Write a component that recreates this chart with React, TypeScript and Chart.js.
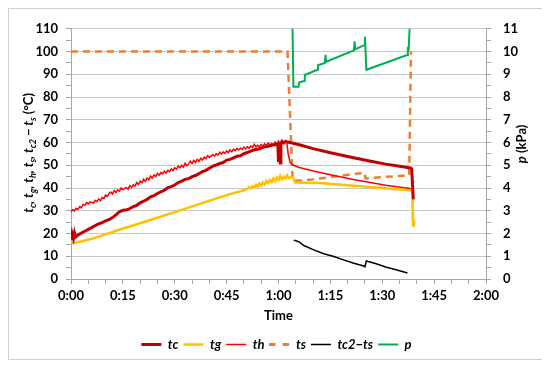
import React, { useEffect, useRef } from 'react';
import { Chart, registerables } from 'chart.js';

Chart.register(...registerables);

type Pt = [number, number];

// time in minutes, values in °C
const tcData: Pt[] = [
  [0, 17.3], [0.3, 20], [0.7, 17.8], [1, 20.2], [1.3, 18.4], [2, 19.3], [3, 20.2], [4, 21], [5, 21.8], [6, 22.6],
  [7, 23.5], [8, 24.2], [9, 24.8], [10, 25.6], [11, 26.1], [12, 27], [13, 28.2], [14, 29.6], [15, 30.2], [16, 30.3],
  [17, 31], [18, 31.8], [19, 32.4], [20, 33.5], [21, 34.2], [22, 35], [23, 36.1], [24, 36.6], [25, 37.6], [26, 38.3],
  [27, 39], [28, 40.2], [29, 40.6], [30, 41.3], [31, 42.4], [32, 43], [33, 43.8], [34, 44.1], [35, 45], [36, 45.5],
  [37, 46.3], [38, 47.2], [39, 47.8], [40, 48.7], [41, 49.6], [42, 50.1], [43, 50.8], [44, 51.2], [45, 52.3], [46, 52.6],
  [47, 53.3], [48, 54], [49, 54.2], [50, 55.1], [51, 55.6], [52, 56.2], [53, 56.8], [54, 57], [55, 57.6], [56, 58.1],
  [57, 58.3], [58, 58.8], [59, 59], [59.8, 59.3], [60, 51.5], [60.2, 59.5], [60.5, 51], [60.7, 59.6], [61, 60.3], [61.5, 59.8],
  [62, 60.5], [62.7, 60.2], [63, 60.1], [66, 59], [70, 57.3], [75, 55.5], [81, 53.5], [86, 52], [91, 50.5], [95, 49.6],
  [98.2, 48.8], [98.5, 48.5], [98.8, 40], [99, 35],
];

const tgData: Pt[] = [
  [0, 15.8], [2, 16.2], [4, 16.9], [6, 17.7], [8, 18.6], [10, 19.6], [13, 21.2], [17, 23.1], [22, 25.5], [27, 27.9],
  [32, 30.4], [37, 32.9], [42, 35.4], [46, 37.3], [50, 39], [51, 39.6], [51.5, 40.4], [52, 39.9], [52.5, 40.8], [53, 40.3],
  [53.5, 41.4], [54, 40.6], [54.5, 42], [55, 41.1], [55.5, 42.4], [56, 41.6], [56.5, 43.1], [57, 42.2], [57.5, 43.5], [58, 42.6],
  [58.5, 44.2], [59, 43], [59.5, 44.6], [60, 43.5], [60.5, 45.3], [61, 43.8], [61.5, 45], [62, 44.1], [62.5, 45.6], [63, 44.3],
  [63.5, 44.8], [64.3, 44.6], [64.8, 42.4], [72, 42.2], [81, 41.1], [90, 40], [98.4, 38.9], [98.7, 38.5], [98.9, 23.5], [99.1, 25.5],
  [99.3, 24.2],
];

const thData: Pt[] = [
  [0, 29.5], [0.5, 30.4], [1, 29.9], [1.5, 31.1], [2, 30.6], [2.5, 31.8], [3, 31.3], [3.5, 32.8], [4, 32.4], [4.5, 33.6],
  [5, 33], [5.5, 33.9], [6, 33.7], [6.5, 33.3], [7, 34.6], [7.5, 34], [8, 35.2], [8.5, 34.4], [9, 35.8], [9.5, 35.4],
  [10, 36.9], [10.5, 36.2], [11, 37.6], [11.5, 38.2], [12, 37.3], [12.5, 38.9], [13, 38], [13.5, 39.2], [14, 38.6], [14.5, 40],
  [15, 39.2], [15.5, 39.8], [16, 40.2], [16.5, 39.5], [17, 41], [17.5, 40.3], [18, 41.4], [18.5, 40.8], [19, 42.4], [19.5, 41.6],
  [20, 43], [20.5, 42.3], [21, 43.9], [21.5, 42.9], [22, 44.4], [22.5, 43.6], [23, 45.2], [23.5, 44.3], [24, 45.7], [24.5, 45],
  [25, 46.4], [25.5, 45.6], [26, 46.8], [26.5, 46.2], [27, 47.4], [27.5, 46.6], [28, 47.8], [28.5, 47.2], [29, 48.4], [29.5, 47.7],
  [30, 48.9], [30.5, 48.2], [31, 49.7], [31.5, 48.9], [32, 50], [32.5, 49.2], [33, 50.9], [33.5, 49.8], [34, 50.6], [34.5, 51.8],
  [35, 50.8], [35.5, 52.2], [36, 51.2], [36.5, 52.6], [37, 51.7], [37.5, 53.1], [38, 52.3], [38.5, 53.6], [39, 52.9], [39.5, 54.2],
  [40, 53.4], [41, 54.7], [41.5, 53.9], [42, 55.1], [42.5, 54.5], [43, 55.7], [43.5, 54.9], [44, 55.9], [44.5, 55.2], [45, 56.3],
  [45.5, 55.5], [46, 56.7], [46.5, 55.9], [47, 57.1], [47.5, 56.4], [48, 57.4], [48.5, 56.7], [49, 57.6], [49.5, 56.9], [50, 58],
  [50.5, 57.2], [51, 58.2], [51.5, 57.5], [52, 58.5], [52.5, 57.8], [53, 59.2], [53.5, 58], [54, 58.8], [54.5, 58.1], [55, 59.2],
  [55.5, 58.4], [56, 59.5], [56.5, 58.6], [57, 59.8], [57.5, 58.9], [58, 59.6], [58.5, 59], [59, 60.2], [59.5, 59.3], [60, 60.6],
  [60.5, 59.5], [61, 61], [61.5, 60], [62, 60.8], [62.4, 60.2], [62.8, 55], [63.3, 51.5], [64, 50.2], [66, 49], [70, 47.5],
  [75, 45.8], [82, 43.6], [91, 41.2], [98.5, 39.7],
];

const tsData: Pt[] = [
  [0, 100], [62.6, 100], [64.1, 43.3], [66, 43.2], [70, 43.8], [75, 44.8], [79, 45.6], [82, 46.2], [84.8, 46.8], [85.2, 44.2],
  [90, 44.8], [95, 45.3], [97.8, 45.6], [98.3, 100],
];

const tc2tsData: Pt[] = [
  [64.4, 17.1], [65, 16.8], [66, 16.3], [67.3, 14.7], [68, 14.3], [70, 12.9], [73.1, 11.1], [76, 9.9], [79, 8.3], [81.8, 6.9],
  [84.7, 5.7], [85, 5.4], [85.4, 7.9], [88, 6.8], [91, 5.3], [94, 4.1], [97.3, 2.6],
];

// pressure in kPa (right axis)
const pData: Pt[] = [
  [64.0, 11.6], [64.3, 8.45], [65.8, 8.45], [66.0, 8.65], [67.4, 8.7], [67.6, 8.97], [71.2, 9.2], [71.4, 9.4], [73.4, 9.5], [73.6, 9.85],
  [73.8, 9.55], [81.8, 10.05], [82.0, 10.45], [82.2, 10.1], [84.8, 10.28], [85.0, 10.65], [85.4, 9.2], [97.2, 9.85], [97.4, 10.2], [97.6, 10.0],
  [98.1, 11.6],
];

const seriesLabels = ['tc', 'tg', 'th', 'ts', 'tc2\u2212ts', 'p'];
const xTickStep = 5;
const xLabelEvery = 15;

const toXY = (a: Pt[]) => a.map(([x, y]) => ({ x, y }));
const fmtTime = (v: number) => `${Math.floor(v / 60)}:${String(Math.round(v % 60)).padStart(2, '0')}`;

type Part = [string, boolean, boolean]; // text, subscript, italic
const yTitleParts: Part[] = [
  ['t', false, true], ['c', true, true], [', ', false, true],
  ['t', false, true], ['g', true, true], [', ', false, true],
  ['t', false, true], ['h', true, true], [', ', false, true],
  ['t', false, true], ['s', true, true], [', ', false, true],
  ['t', false, true], ['c2', true, true], [' \u2212 ', false, true],
  ['t', false, true], ['s', true, true], [' (\u00B0C)', false, false],
];
const y2TitleParts: Part[] = [['p', false, true], [' (kPa)', false, false]];

function drawRich(ctx: CanvasRenderingContext2D, parts: Part[], cx: number, cy: number) {
  ctx.save();
  ctx.translate(cx, cy);
  ctx.rotate(-Math.PI / 2);
  const fontOf = (p: Part) => `${p[2] ? 'italic ' : ''}bold ${p[1] ? 9 : 13}px Lato, "Open Sans", sans-serif`;
  let total = 0;
  const widths = parts.map((p) => {
    ctx.font = fontOf(p);
    const w = ctx.measureText(p[0]).width;
    total += w;
    return w;
  });
  let x = -total / 2;
  ctx.fillStyle = '#000';
  ctx.textBaseline = 'alphabetic';
  ctx.textAlign = 'left';
  parts.forEach((p, i) => {
    ctx.font = fontOf(p);
    ctx.fillText(p[0], x, p[1] ? 7.5 : 4.5);
    x += widths[i];
  });
  ctx.restore();
}

const axisTitlesPlugin = {
  id: 'axisTitles',
  afterDraw(chart: any) {
    const { ctx, chartArea } = chart;
    const mid = (chartArea.top + chartArea.bottom) / 2;
    drawRich(ctx, yTitleParts, chartArea.left - 43, mid - 1);
    drawRich(ctx, y2TitleParts, chartArea.right + 35, mid - 10);
  },
};

function makeDashedSample(color: string): HTMLCanvasElement {
  const c = document.createElement('canvas');
  c.width = 20;
  c.height = 3;
  const g = c.getContext('2d');
  if (g) {
    g.fillStyle = color;
    g.fillRect(0, 0, 6, 3);
    g.fillRect(13, 0, 7, 3);
  }
  return c;
}

export default function App() {
  const ref = useRef<HTMLCanvasElement | null>(null);

  useEffect(() => {
    if (!ref.current) return;
    Chart.defaults.font.family = 'Lato, "Open Sans", sans-serif';
    Chart.defaults.color = '#000';
    const tickFont = { size: 13, weight: 'bold' as const };
    const axisGray = '#a6a6a6';
    const dashSample = makeDashedSample('#ED7D31');
    const chart = new Chart(ref.current, {
      type: 'line',
      data: {
        datasets: [
          { label: seriesLabels[0], data: toXY(tcData), borderColor: '#C00000', backgroundColor: '#C00000', borderWidth: 3, yAxisID: 'y' },
          { label: seriesLabels[1], data: toXY(tgData), borderColor: '#FFC000', backgroundColor: '#FFC000', borderWidth: 2.5, yAxisID: 'y' },
          { label: seriesLabels[2], data: toXY(thData), borderColor: '#FF0000', backgroundColor: '#FF0000', borderWidth: 1.5, yAxisID: 'y' },
          { label: seriesLabels[3], data: toXY(tsData), borderColor: '#ED7D31', backgroundColor: '#ED7D31', borderWidth: 2.5, borderDash: [7, 5], yAxisID: 'y' },
          { label: seriesLabels[4], data: toXY(tc2tsData), borderColor: '#000000', backgroundColor: '#000000', borderWidth: 1.5, yAxisID: 'y' },
          { label: seriesLabels[5], data: toXY(pData), borderColor: '#00B050', backgroundColor: '#00B050', borderWidth: 2, yAxisID: 'y2' },
        ],
      },
      options: {
        responsive: false,
        animation: false,
        events: [],
        elements: { point: { radius: 0 }, line: { tension: 0 } },
        layout: { padding: { top: 14, left: 0, right: 0, bottom: 0 } },
        plugins: {
          tooltip: { enabled: false },
          legend: {
            position: 'bottom',
            labels: {
              usePointStyle: true,
              pointStyle: 'line',
              pointStyleWidth: 20,
              padding: 5,
              color: '#000',
              font: { size: 13, weight: 'bold', style: 'italic' },
              generateLabels: (ch: any) => {
                const items = (Chart.defaults as any).plugins.legend.labels.generateLabels(ch);
                items.forEach((it: any) => {
                  if (it.datasetIndex === 3) it.pointStyle = dashSample;
                });
                return items;
              },
            },
          },
        },
        scales: {
          x: {
            type: 'linear',
            min: 0,
            max: 120,
            afterFit: (s: any) => { s.height = 54; },
            ticks: {
              stepSize: xTickStep,
              autoSkip: false,
              maxRotation: 0,
              padding: 4,
              font: tickFont,
              color: '#000',
              callback: (v: any) => (Number(v) % xLabelEvery === 0 ? fmtTime(Number(v)) : ''),
            },
            grid: { drawOnChartArea: false, drawTicks: true, tickLength: 5, tickColor: axisGray },
            border: { color: axisGray },
            title: { display: true, text: 'Time', font: { size: 13, weight: 'bold' }, color: '#000', padding: { top: 0, bottom: 9 } },
          },
          y: {
            position: 'left',
            min: 0,
            max: 110,
            afterFit: (s: any) => { s.width = 62; },
            ticks: {
              stepSize: 5,
              autoSkip: false,
              padding: 8,
              font: tickFont,
              color: '#000',
              callback: (v: any) => (Number(v) % 10 === 0 ? String(v) : ''),
            },
            grid: {
              color: (c: any) => (c.tick && c.tick.value % 10 === 0 ? '#c8c8c8' : 'rgba(0,0,0,0)'),
              tickLength: 5,
              tickColor: axisGray,
            },
            border: { color: axisGray },
          },
          y2: {
            position: 'right',
            min: 0,
            max: 11,
            afterFit: (s: any) => { s.width = 58; },
            ticks: {
              stepSize: 0.5,
              autoSkip: false,
              padding: 12,
              font: tickFont,
              color: '#000',
              callback: (v: any) => (Number.isInteger(Number(v)) ? String(v) : ''),
            },
            grid: { drawOnChartArea: false, tickLength: 5, tickColor: axisGray },
            border: { color: axisGray },
          },
        },
      },
      plugins: [axisTitlesPlugin],
    } as any);
    return () => chart.destroy();
  }, []);

  return (
    <div style={{ position: 'relative', width: 535, height: 350, border: '1px solid #d0d0d0', background: '#fff' }}>
      <canvas ref={ref} width={535} height={352} style={{ display: 'block', position: 'absolute', left: 0, top: 0 }} />
    </div>
  );
}
